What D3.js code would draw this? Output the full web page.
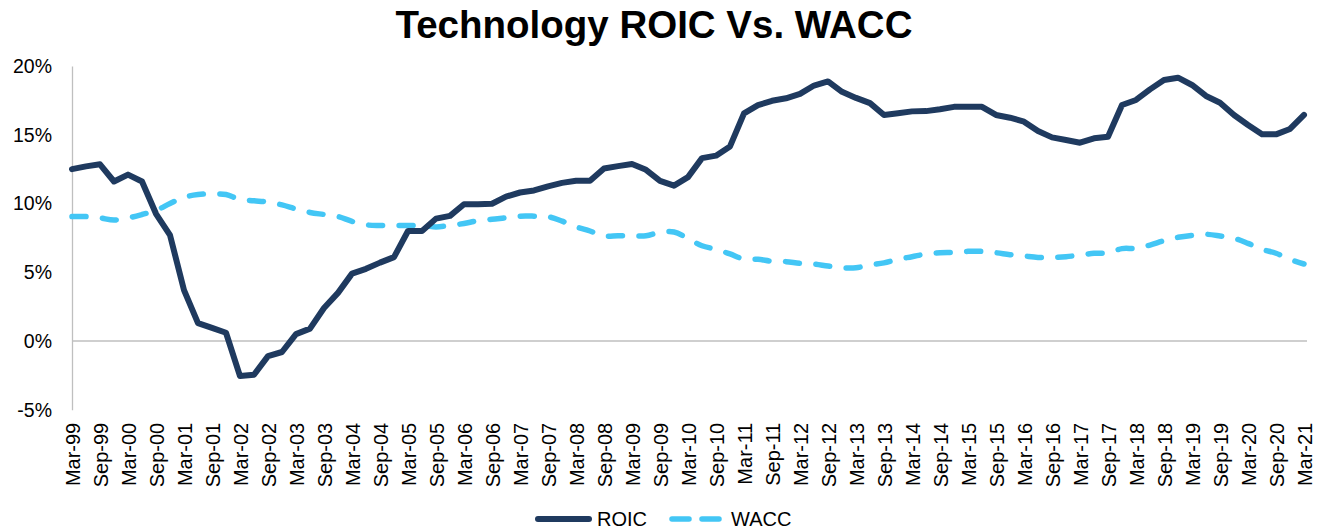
<!DOCTYPE html>
<html>
<head>
<meta charset="utf-8">
<script src="https://cdn.jsdelivr.net/npm/d3@7"></script>
<style>
  body { margin: 0; background: #fff; }
  svg text { font-family: "Liberation Sans", Arial, sans-serif; fill: #000; }
</style>
</head>
<body>
<svg id="chart" width="1321" height="531"></svg>
<script>
// quarterly, Mar-99 .. Mar-21 (89 quarters), values in %
var roic = [
  12.5, 12.7, 12.85, 11.6, 12.1, 11.6, 9.25, 7.7, 3.7, 1.3,
  0.95, 0.6, -2.55, -2.45, -1.1, -0.8, 0.5, 0.9, 2.4, 3.5,
  4.9, 5.25, 5.7, 6.1, 8.0, 8.0, 8.9, 9.1, 9.95, 9.95,
  9.98, 10.5, 10.8, 10.95, 11.25, 11.5, 11.65, 11.65, 12.55, 12.72,
  12.87, 12.45, 11.65, 11.3, 11.92, 13.3, 13.48, 14.15, 16.55, 17.15,
  17.47, 17.65, 17.97, 18.58, 18.88, 18.12, 17.68, 17.3, 16.44, 16.56,
  16.7, 16.72, 16.86, 17.03, 17.03, 17.03, 16.44, 16.24, 15.95, 15.27,
  14.81, 14.62, 14.42, 14.74, 14.86, 17.16, 17.53, 18.3, 18.98, 19.15,
  18.62, 17.82, 17.33, 16.44, 15.71, 15.03, 15.03, 15.42, 16.44
];

var wacc = [
  9.05, 9.05, 8.95, 8.8, 8.95, 9.2, 9.5, 10.0, 10.45, 10.65,
  10.7, 10.65, 10.3, 10.2, 10.1, 9.9, 9.6, 9.35, 9.2, 9.05,
  8.7, 8.45, 8.4, 8.4, 8.4, 8.4, 8.3, 8.4, 8.55, 8.75,
  8.85, 8.97, 9.08, 9.08, 9.04, 8.72, 8.3, 8.0, 7.64, 7.65,
  7.65, 7.65, 7.9, 7.93, 7.45, 6.93, 6.67, 6.33, 5.96, 5.94,
  5.8, 5.77, 5.65, 5.6, 5.45, 5.33, 5.33, 5.53, 5.68, 5.94,
  6.13, 6.33, 6.42, 6.45, 6.52, 6.52, 6.42, 6.28, 6.18, 6.08,
  6.08, 6.13, 6.25, 6.38, 6.42, 6.72, 6.74, 6.98, 7.3, 7.54,
  7.68, 7.76, 7.64, 7.47, 7.1, 6.67, 6.38, 5.94, 5.6
];

// one label every second quarter
var tickLabels = [
  'Mar-99', 'Sep-99', 'Mar-00', 'Sep-00', 'Mar-01', 'Sep-01', 'Mar-02', 'Sep-02',
  'Mar-03', 'Sep-03', 'Mar-04', 'Sep-04', 'Mar-05', 'Sep-05', 'Mar-06', 'Sep-06',
  'Mar-07', 'Sep-07', 'Mar-08', 'Sep-08', 'Mar-09', 'Sep-09', 'Mar-10', 'Sep-10',
  'Mar-11', 'Sep-11', 'Mar-12', 'Sep-12', 'Mar-13', 'Sep-13', 'Mar-14', 'Sep-14',
  'Mar-15', 'Sep-15', 'Mar-16', 'Sep-16', 'Mar-17', 'Sep-17', 'Mar-18', 'Sep-18',
  'Mar-19', 'Sep-19', 'Mar-20', 'Sep-20', 'Mar-21'
];

var yTicks = [-5, 0, 5, 10, 15, 20];

var seriesNames = ['ROIC', 'WACC'];
var colors = {ROIC: '#1F3A5F', WACC: '#43C6F5'};

var svg = d3.select('#chart');

var x = d3.scaleLinear()
  .domain([0, roic.length - 1])
  .range([72, 1304]);

var y = d3.scaleLinear()
  .domain([-5, 20])
  .range([409.75, 66]);

svg.append('text')
  .attr('x', 654)
  .attr('y', 38)
  .attr('text-anchor', 'middle')
  .style('font-size', '38.5px')
  .style('font-weight', 'bold')
  .text('Technology ROIC Vs. WACC');

// zero line
svg.append('line')
  .attr('x1', x(0))
  .attr('x2', 1307)
  .attr('y1', y(0))
  .attr('y2', y(0))
  .attr('stroke', '#BFBFBF')
  .attr('stroke-width', 1.3);

var yAxis = svg.append('g')
  .attr('transform', 'translate(' + x(0) + ',0)')
  .call(d3.axisLeft(y)
    .tickValues(yTicks)
    .tickSize(0)
    .tickPadding(20)
    .tickFormat(function(d) { return d + '%'; }));

yAxis.select('.domain')
  .attr('stroke', '#BFBFBF')
  .attr('stroke-width', 1.3);
yAxis.selectAll('text')
  .style('font-size', '19.5px');

var xAxis = svg.append('g')
  .attr('transform', 'translate(0,' + y(-5) + ')')
  .call(d3.axisBottom(x)
    .tickValues(d3.range(0, roic.length, 2))
    .tickSize(0)
    .tickFormat(function(i) { return tickLabels[i / 2]; }));

xAxis.select('.domain').remove();
xAxis.selectAll('text')
  .attr('x', -13)
  .attr('y', 0)
  .attr('dy', '0.35em')
  .attr('transform', 'rotate(-90)')
  .style('text-anchor', 'end')
  .style('font-size', '20px');

var roicLine = d3.line()
  .x(function(d, i) { return x(i); })
  .y(function(d) { return y(d); });

var waccLine = d3.line()
  .x(function(d, i) { return x(i); })
  .y(function(d) { return y(d); })
  .curve(d3.curveCatmullRom);

svg.append('path')
  .datum(wacc)
  .attr('d', waccLine)
  .attr('fill', 'none')
  .attr('stroke', colors.WACC)
  .attr('stroke-width', 5.5)
  .attr('stroke-linecap', 'round')
  .attr('stroke-dasharray', '14,16.5');

svg.append('path')
  .datum(roic)
  .attr('d', roicLine)
  .attr('fill', 'none')
  .attr('stroke', colors.ROIC)
  .attr('stroke-width', 6)
  .attr('stroke-linejoin', 'round')
  .attr('stroke-linecap', 'round');

// legend
var legend = svg.append('g').attr('class', 'legend');

legend.append('line')
  .attr('x1', 538).attr('x2', 589)
  .attr('y1', 519).attr('y2', 519)
  .attr('stroke', colors.ROIC)
  .attr('stroke-width', 6)
  .attr('stroke-linecap', 'round');

legend.append('text')
  .attr('x', 597)
  .attr('y', 526)
  .style('font-size', '20px')
  .text(seriesNames[0]);

legend.append('line')
  .attr('x1', 672).attr('x2', 719)
  .attr('y1', 519).attr('y2', 519)
  .attr('stroke', colors.WACC)
  .attr('stroke-width', 5.5)
  .attr('stroke-linecap', 'round')
  .attr('stroke-dasharray', '17,13');

legend.append('text')
  .attr('x', 731)
  .attr('y', 526)
  .style('font-size', '20px')
  .text(seriesNames[1]);
</script>
</body>
</html>
